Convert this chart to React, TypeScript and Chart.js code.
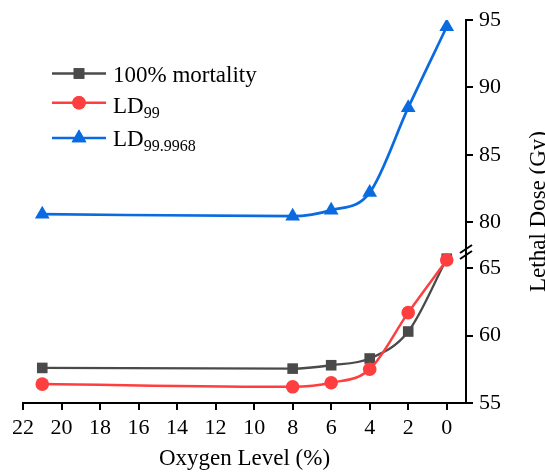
import React, { useEffect, useRef } from 'react';
import { Chart, registerables } from 'chart.js';
import { drawPoint } from 'chart.js/helpers';

Chart.register(...registerables);

// ---- data ----
const oxygenLevels = [21, 8, 6, 4, 2, 0];
const mortality100 = [57.6, 57.55, 57.8, 58.3, 60.3, 65.7];
const ld99 = [56.4, 56.2, 56.5, 57.5, 61.7, 65.6];
const ld999968 = [80.6, 80.45, 80.9, 82.2, 88.5, 94.5];

const xTickValues = [22, 20, 18, 16, 14, 12, 10, 8, 6, 4, 2, 0];
const xRange = [-1, 22];
const upperRange = [77.8, 95];
const lowerRange = [55, 66.2];
const upperTickValues = [80, 85, 90, 95];
const lowerTickValues = [55, 60, 65];

const xTitle = 'Oxygen Level (%)';
const yTitle = 'Lethal Dose (Gy)';

const seriesNames = ['100% mortality', 'LD', 'LD'];
const seriesSubs = ['', '99', '99.9968'];
const seriesColors = ['#4a4a4a', '#ff3f3f', '#0a6be0'];
const seriesMarkers = ['rect', 'circle', 'triangle'];
const seriesRadius = [7.5, 6.8, 8.5];

const FONT = "'Liberation Serif', 'Times New Roman', serif";

const toPoints = (ys: number[]) => oxygenLevels.map((x, i) => ({ x, y: ys[i] }));

const overlayPlugin = {
  id: 'overlay',
  afterDraw(chart: any) {
    const ctx = chart.ctx as CanvasRenderingContext2D;
    const ca = chart.chartArea;
    const up = chart.scales.yUpper;
    ctx.save();

    // axis break marks
    const yb = up.bottom;
    const xa = up.left;
    ctx.strokeStyle = '#000';
    ctx.lineWidth = 2;
    for (const d of [-3, 3]) {
      ctx.beginPath();
      ctx.moveTo(xa - 6, yb + d + 4);
      ctx.lineTo(xa + 6, yb + d - 4);
      ctx.stroke();
    }

    // axis titles
    ctx.fillStyle = '#000';
    ctx.font = `23px ${FONT}`;
    ctx.textAlign = 'center';
    ctx.textBaseline = 'middle';
    ctx.fillText(xTitle, (ca.left + ca.right) / 2, 459);

    ctx.save();
    ctx.translate(545, (ca.top + ca.bottom) / 2);
    ctx.rotate(-Math.PI / 2);
    ctx.textBaseline = 'alphabetic';
    ctx.fillText(yTitle, 0, 0);
    ctx.restore();

    // legend
    const rows = [
      { line: 73.5, base: 81.5 },
      { line: 102.7, base: 112.5 },
      { line: 138, base: 146 },
    ];
    rows.forEach((r, i) => {
      ctx.strokeStyle = seriesColors[i];
      ctx.lineWidth = 2.5;
      ctx.beginPath();
      ctx.moveTo(52, r.line);
      ctx.lineTo(106, r.line);
      ctx.stroke();
      ctx.fillStyle = seriesColors[i];
      drawPoint(ctx, { pointStyle: seriesMarkers[i], radius: seriesRadius[i], rotation: 0, borderWidth: 0 } as any, 79, r.line);
      ctx.fill();
      ctx.fillStyle = '#000';
      ctx.textAlign = 'left';
      ctx.textBaseline = 'alphabetic';
      ctx.font = `23px ${FONT}`;
      ctx.fillText(seriesNames[i], 113, r.base);
      if (seriesSubs[i]) {
        const w = ctx.measureText(seriesNames[i]).width;
        ctx.font = `16px ${FONT}`;
        ctx.fillText(seriesSubs[i], 113 + w, r.base + 5);
      }
    });
    ctx.restore();
  },
};

function App() {
  const ref = useRef<HTMLCanvasElement | null>(null);

  useEffect(() => {
    if (!ref.current) return;
    const tickFont = { family: FONT, size: 22 };
    const grid = { drawOnChartArea: false, drawTicks: true, tickLength: 7, color: '#000', lineWidth: 2 };
    const border = { display: true, color: '#000', width: 2 };

    const yFit = (scale: any) => {
      scale.width = 79;
      scale.paddingTop = 0;
      scale.paddingBottom = 0;
    };

    const chart = new Chart(ref.current, {
      type: 'line',
      data: {
        datasets: [
          {
            label: '100% mortality',
            data: toPoints(mortality100),
            yAxisID: 'yLower',
            borderColor: seriesColors[0],
            backgroundColor: seriesColors[0],
            pointStyle: seriesMarkers[0],
            pointRadius: seriesRadius[0],
            pointBorderWidth: 0,
            borderWidth: 2.3,
            cubicInterpolationMode: 'monotone',
            order: 3,
          },
          {
            label: 'LD99',
            data: toPoints(ld99),
            yAxisID: 'yLower',
            borderColor: seriesColors[1],
            backgroundColor: seriesColors[1],
            pointStyle: seriesMarkers[1],
            pointRadius: seriesRadius[1],
            pointBorderWidth: 0,
            borderWidth: 2.5,
            cubicInterpolationMode: 'monotone',
            order: 2,
          },
          {
            label: 'LD99.9968',
            data: toPoints(ld999968),
            yAxisID: 'yUpper',
            borderColor: seriesColors[2],
            backgroundColor: seriesColors[2],
            pointStyle: seriesMarkers[2],
            pointRadius: seriesRadius[2],
            pointBorderWidth: 0,
            borderWidth: 2.7,
            cubicInterpolationMode: 'monotone',
            order: 1,
          },
        ],
      },
      options: {
        responsive: false,
        animation: false,
        events: [],
        layout: { padding: { left: 23, top: 20, right: 0, bottom: 0 } },
        plugins: { legend: { display: false }, tooltip: { enabled: false }, title: { display: false } },
        scales: {
          x: {
            type: 'linear',
            position: 'bottom',
            reverse: true,
            min: xRange[0],
            max: xRange[1],
            grid,
            border,
            ticks: { font: tickFont, color: '#000', padding: 5, maxRotation: 0, autoSkip: false },
            afterBuildTicks: (s: any) => {
              s.ticks = xTickValues.map((v) => ({ value: v }));
            },
            afterFit: (s: any) => {
              s.height = 69;
              s.paddingLeft = 0;
              s.paddingRight = 0;
            },
          },
          yUpper: {
            type: 'linear',
            position: 'right',
            stack: 'y',
            stackWeight: upperRange[1] - upperRange[0],
            min: upperRange[0],
            max: upperRange[1],
            grid,
            border,
            ticks: { font: tickFont, color: '#000', padding: 6 },
            afterBuildTicks: (s: any) => {
              s.ticks = upperTickValues.map((v) => ({ value: v }));
            },
            afterFit: yFit,
          },
          yLower: {
            type: 'linear',
            position: 'right',
            stack: 'y',
            stackWeight: lowerRange[1] - lowerRange[0],
            min: lowerRange[0],
            max: lowerRange[1],
            grid,
            border,
            ticks: { font: tickFont, color: '#000', padding: 6 },
            afterBuildTicks: (s: any) => {
              s.ticks = lowerTickValues.map((v) => ({ value: v }));
            },
            afterFit: yFit,
          },
        },
      } as any,
      plugins: [overlayPlugin],
    });
    return () => chart.destroy();
  }, []);

  return (
    <div style={{ position: 'fixed', left: 0, top: 0, width: 545, height: 472, background: '#fff' }}>
      <canvas ref={ref} width={545} height={472} style={{ display: 'block', width: 545, height: 472 }} />
    </div>
  );
}

export default App;
